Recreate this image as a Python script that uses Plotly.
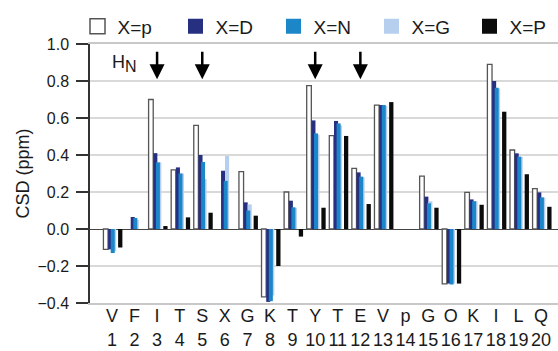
import plotly.graph_objects as go

residues = ["V", "F", "I", "T", "S", "X", "G", "K", "T", "Y",
            "T", "E", "V", "p", "G", "O", "K", "I", "L", "Q"]
positions = list(range(1, 21))

csd_p = [-0.11, None, 0.70, 0.32, 0.56, None, 0.31, -0.367, 0.20, 0.775,
         0.505, 0.328, 0.67, None, 0.286, -0.297, 0.198, 0.89, 0.427, 0.218]
csd_D = [-0.11, 0.065, 0.41, 0.333, 0.40, 0.315, 0.144, -0.394, 0.153, 0.587,
         0.584, 0.306, 0.67, None, 0.175, -0.295, 0.16, 0.80, 0.409, 0.198]
csd_N = [-0.13, 0.06, 0.36, 0.30, 0.362, 0.26, 0.10, -0.39, 0.117, 0.517,
         0.571, 0.283, 0.67, None, 0.139, -0.30, 0.15, 0.764, 0.391, 0.171]
csd_G = [-0.12, 0.05, 0.36, 0.30, 0.27, 0.395, 0.133, -0.36, 0.115, 0.51,
         0.56, 0.28, 0.665, None, 0.15, -0.295, 0.15, 0.76, 0.39, 0.17]
csd_P = [-0.10, None, 0.016, 0.063, 0.088, None, 0.072, -0.20, -0.041, 0.115,
         0.503, 0.135, 0.686, None, 0.115, -0.295, 0.131, 0.634, 0.296, 0.12]

series_names = ["X=p", "X=D", "X=N", "X=G", "X=P"]
arrow_residues = [3, 5, 10, 12]
tick_text = [f"{r}<br>{n}" for r, n in zip(residues, positions)]

FONT = "Liberation Sans, Arial, sans-serif"
TXT = "#1a1a1a"

colors = {"X=p": "#ffffff", "X=D": "#262f80", "X=N": "#1b86c8",
          "X=G": "#b7cfee", "X=P": "#0b0b0b"}
lines = {"X=p": dict(color="#555555", width=1.3)}
data = {"X=p": csd_p, "X=D": csd_D, "X=N": csd_N, "X=G": csd_G, "X=P": csd_P}
offsets = {"X=p": -0.376, "X=D": -0.168, "X=N": -0.053, "X=G": 0.009, "X=P": 0.274}
widths = {"X=p": 0.205, "X=D": 0.18, "X=N": 0.178, "X=G": 0.18, "X=P": 0.19}

# plot area in pixels (for placing the legends)
L, R, T, B, W, H = 90, 0, 44, 48, 558, 351
plot_w = W - L - R
box_centers_px = [97.5, 195.5, 293.5, 391.5, 489.5]
legend_keys = ["legend", "legend2", "legend3", "legend4", "legend5"]

fig = go.Figure()

# legend entries, one legend each so they sit at even spacing
for name, key in zip(series_names, legend_keys):
    fig.add_trace(go.Scatter(
        x=[None], y=[None], name=name, mode="markers", showlegend=True,
        legend=key,
        marker=dict(symbol="square", size=15, color=colors[name],
                    line=dict(color="#555555", width=1.5) if name == "X=p"
                    else dict(width=0)),
    ))

# real bars; draw order puts N on top of D and G (overlapping as in reference)
for name in ["X=p", "X=D", "X=G", "X=N", "X=P"]:
    fig.add_trace(go.Bar(
        x=positions, y=data[name], name=name, showlegend=False,
        offset=offsets[name], width=widths[name],
        marker=dict(color=colors[name], line=lines.get(name, dict(width=0))),
    ))

annotations = [
    dict(x=a, y=0.81, xref="x", yref="y", text="", showarrow=True,
         ax=0, ay=-29, arrowhead=2, arrowsize=1.2, arrowwidth=2.5,
         arrowcolor="#000000")
    for a in arrow_residues
]
annotations.append(dict(x=0.9, y=0.895, xref="x", yref="y", xanchor="left",
                        yanchor="middle", showarrow=False,
                        text="H<sub><span style='font-size:16px'>N</span></sub>",
                        font=dict(family=FONT, size=18, color=TXT)))

layout_legends = {}
for key, cx in zip(legend_keys, box_centers_px):
    layout_legends[key] = dict(
        orientation="h", x=(cx - 20 - L) / plot_w, xanchor="left",
        y=1.068, yanchor="middle",
        font=dict(family=FONT, size=19, color=TXT),
        bgcolor="rgba(0,0,0,0)", itemsizing="trace",
    )

fig.update_layout(
    width=W, height=H,
    margin=dict(l=L, r=R, t=T, b=B, pad=0, autoexpand=False),
    paper_bgcolor="white", plot_bgcolor="white",
    barmode="overlay",
    font=dict(family=FONT, color=TXT, size=16),
    showlegend=True,
    annotations=annotations,
    **layout_legends,
)
fig.update_xaxes(
    range=[0.03, 20.75], tickmode="array", tickvals=positions,
    ticktext=tick_text, ticks="", showgrid=False, zeroline=False,
    showline=True, linecolor="#c8c8c8", linewidth=1.5, mirror=True,
    ticklabelstandoff=-4, automargin=False,
    tickfont=dict(family=FONT, size=18, color=TXT),
)
fig.update_yaxes(
    range=[-0.4, 1.0], tickmode="array", tickvals=[-0.4, -0.2, 0, 0.2, 0.4, 0.6, 0.8, 1.0],
    ticktext=["\u22120.4", "\u22120.2", "0.0", "0.2", "0.4", "0.6", "0.8", "1.0"],
    ticks="outside", ticklen=12, tickwidth=1.5, tickcolor="#333333",
    showline=True, linecolor="#333333", linewidth=1.5,
    showgrid=True, gridcolor="#d9d9d9", gridwidth=1.5,
    zeroline=True, zerolinecolor="#444444", zerolinewidth=1,
    ticklabelstandoff=4, automargin=False,
    tickfont=dict(family=FONT, size=16, color=TXT),
    title=dict(text="CSD (ppm)", standoff=3,
               font=dict(family=FONT, size=18, color=TXT)),
)

fig.write_html("out.html")
